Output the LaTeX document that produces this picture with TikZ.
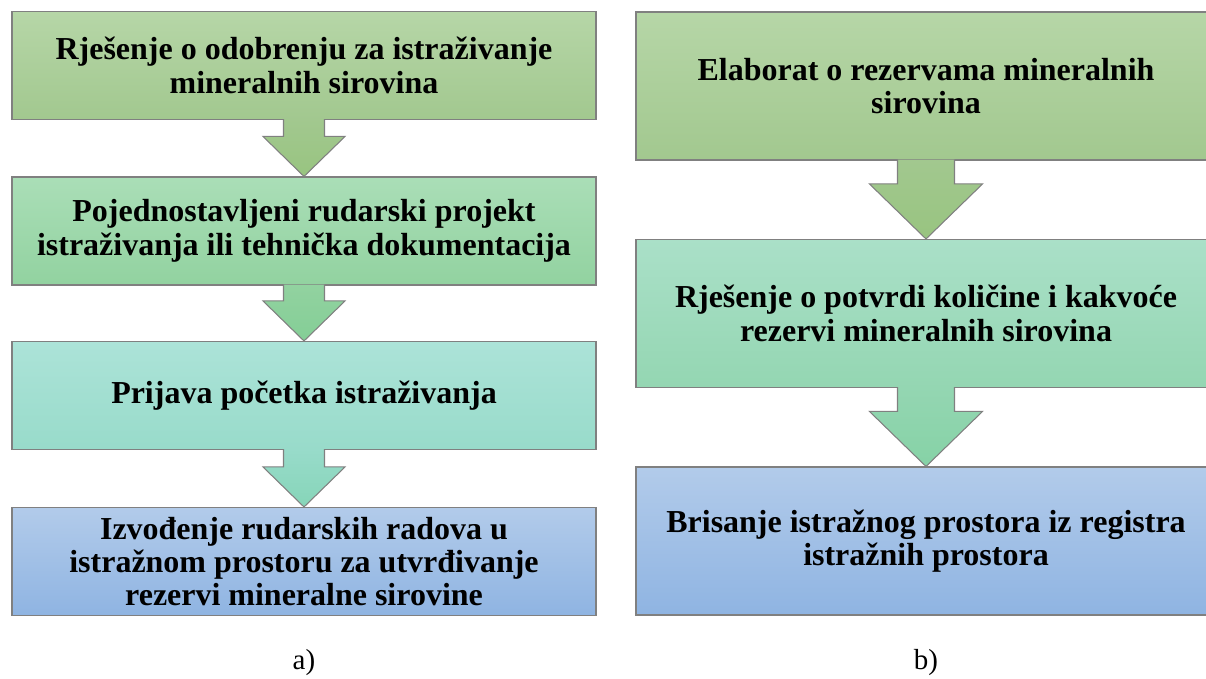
\documentclass[tikz,border=0pt]{standalone}
\usepackage{fontspec}
\setmainfont{Liberation Serif}[BoldFont={Liberation Serif Bold}]
\usepackage{tikz}
\usetikzlibrary{
positioning,
calc
}
\usepackage{xcolor}

\definecolor{boxedge}{RGB}{128,128,128}
\definecolor{greenTop}{RGB}{182,214,167}
\definecolor{greenBot}{RGB}{162,200,143}
\definecolor{mintTop}{RGB}{170,222,183}
\definecolor{mintBot}{RGB}{146,210,160}
\definecolor{tealTop}{RGB}{172,227,216}
\definecolor{tealBot}{RGB}{152,219,202}
\definecolor{blueTop}{RGB}{178,203,234}
\definecolor{blueBot}{RGB}{143,180,226}
\definecolor{seaTop}{RGB}{170,224,200}
\definecolor{seaBot}{RGB}{148,214,178}

\begin{document}
\begin{tikzpicture}[
    every node/.style={font=\bfseries\fontsize{18.2}{19}\selectfont, align=center, inner sep=0pt},
    stepL/.style={draw=boxedge, line width=0.6pt, minimum width=11.68cm, minimum height=2.16cm},
    stepR/.style={draw=boxedge, line width=0.6pt, minimum width=11.6cm, minimum height=2.96cm},
    arrowblock/.style={draw=boxedge, line width=0.6pt, line join=miter},
    caption/.style={font=\fontsize{16.5}{19}\selectfont}
]

    \clip (0,0) rectangle (24.12,-13.58);

    % ==================== LEFT COLUMN a) ====================
    \node [stepL, top color=greenTop, bottom color=greenBot] (L1) at (6.08,-1.31)
        {Rješenje o odobrenju za istraživanje\\mineralnih sirovina};
    \node [stepL, top color=mintTop, bottom color=mintBot] (L2) at (6.08,-4.62)
        {Pojednostavljeni rudarski projekt\\istraživanja ili tehnička dokumentacija};
    \node [stepL, top color=tealTop, bottom color=tealBot] (L3) at (6.08,-7.91)
        {Prijava početka istraživanja};
    \node [stepL, top color=blueTop, bottom color=blueBot] (L4) at (6.08,-11.23)
        {Izvođenje rudarskih radova u\\istražnom prostoru za utvrđivanje\\rezervi mineralne sirovine};

    % ==================== RIGHT COLUMN b) ====================
    \node [stepR, top color=greenTop, bottom color=greenBot] (R1) at (18.52,-1.72)
        {Elaborat o rezervama mineralnih\\sirovina};
    \node [stepR, top color=seaTop, bottom color=seaBot] (R2) at (18.52,-6.27)
        {Rješenje o potvrdi količine i kakvoće\\rezervi mineralnih sirovina};
    \node [stepR, top color=blueTop, bottom color=blueBot] (R3) at (18.52,-10.82)
        {Brisanje istražnog prostora iz registra\\istražnih prostora};

    % ==================== BLOCK ARROWS ====================
    % 1. Left column, box to box
    \draw [arrowblock, top color=greenBot, bottom color={rgb,255:red,152;green,196;blue,128}]
        ($(L1.south)+(-0.41,0.02)$) |- ($(L2.north)+(-0.82,0.8)$) -- (L2.north)
        -- ++(0.82,0.8) -| ($(L1.south)+(0.41,0.02)$);
    \draw [arrowblock, top color=mintBot, bottom color={rgb,255:red,132;green,206;blue,150}]
        ($(L2.south)+(-0.41,0.02)$) |- ($(L3.north)+(-0.82,0.8)$) -- (L3.north)
        -- ++(0.82,0.8) -| ($(L2.south)+(0.41,0.02)$);
    \draw [arrowblock, top color=tealBot, bottom color={rgb,255:red,134;green,213;blue,184}]
        ($(L3.south)+(-0.41,0.02)$) |- ($(L4.north)+(-0.82,0.8)$) -- (L4.north)
        -- ++(0.82,0.8) -| ($(L3.south)+(0.41,0.02)$);

    % 2. Right column, box to box
    \draw [arrowblock, top color=greenBot, bottom color={rgb,255:red,152;green,196;blue,128}]
        ($(R1.south)+(-0.57,0.02)$) |- ($(R2.north)+(-1.13,1.1)$) -- (R2.north)
        -- ++(1.13,1.1) -| ($(R1.south)+(0.57,0.02)$);
    \draw [arrowblock, top color=seaBot, bottom color={rgb,255:red,134;green,210;blue,166}]
        ($(R2.south)+(-0.57,0.02)$) |- ($(R3.north)+(-1.13,1.1)$) -- (R3.north)
        -- ++(1.13,1.1) -| ($(R2.south)+(0.57,0.02)$);

    % ==================== CAPTIONS ====================
    \node [caption] (capA) at (6.08,-13.26) {a)};
    \node [caption] (capB) at (18.52,-13.26) {b)};

\end{tikzpicture}
\end{document}
